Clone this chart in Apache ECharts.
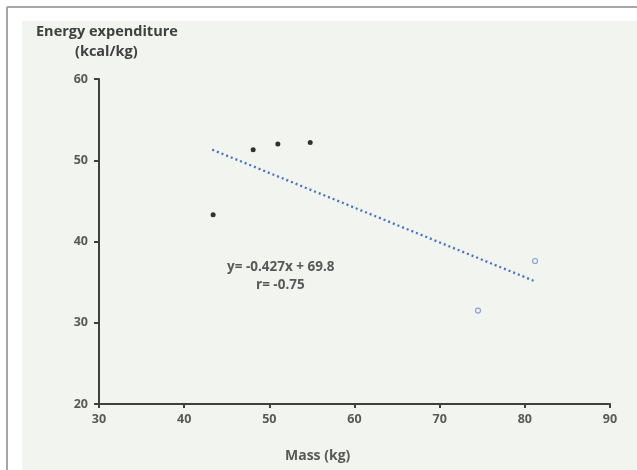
<!DOCTYPE html>
<html>
<head>
<meta charset="utf-8">
<script src="https://cdn.jsdelivr.net/npm/echarts@6/dist/echarts.min.js"></script>
<style>
html,body{margin:0;padding:0;background:#fff;}
#c{width:637px;height:470px;}
</style>
</head>
<body>
<div id="c"></div>
<script>
// Data
var groupAMass = [43.4, 48.1, 51.0, 54.8];
var groupAEnergy = [43.3, 51.3, 52.0, 52.2];
var groupBMass = [74.5, 81.2];
var groupBEnergy = [31.5, 37.6];
var trendMass = [43.3, 81.2];
var trendEnergy = [51.3, 35.1];
var xTicks = [30, 40, 50, 60, 70, 80, 90];
var yTicks = [20, 30, 40, 50, 60];
var yTitle = ["Energy expenditure", "(kcal/kg)"];
var xTitle = "Mass (kg)";
var equationText = ["y= -0.427x + 69.8", "r= -0.75"];

function pairs(xs, ys){ return xs.map(function(x,i){ return [x, ys[i]]; }); }

var chart = echarts.init(document.getElementById('c'), null, {renderer:'canvas'});
var font = '"Open Sans", "Liberation Sans", sans-serif';
var txtColor = '#595959';

chart.setOption({
  animation: false,
  backgroundColor: '#ffffff',
  grid: {left: 99, right: 27, top: 79, bottom: 66, containLabel: false},
  xAxis: {
    type: 'value', min: xTicks[0], max: xTicks[xTicks.length-1], interval: 10,
    axisLine: {show: true, lineStyle: {color: '#404040', width: 2}},
    axisTick: {show: true, length: 4, lineStyle: {color: '#404040', width: 2}},
    axisLabel: {color: txtColor, fontFamily: font, fontSize: 12.5, fontWeight: 'bold', margin: 9},
    splitLine: {show: false}
  },
  yAxis: {
    type: 'value', min: yTicks[0], max: yTicks[yTicks.length-1], interval: 10,
    axisLine: {show: true, lineStyle: {color: '#404040', width: 2}},
    axisTick: {show: true, length: 5, lineStyle: {color: '#404040', width: 2}},
    axisLabel: {color: txtColor, fontFamily: font, fontSize: 12.5, fontWeight: 'bold', margin: 11},
    splitLine: {show: false}
  },
  graphic: [
    {type: 'rect', z: -10, shape: {x: 22, y: 21, width: 615, height: 449}, style: {fill: '#f2f4ef'}},
    {type: 'line', z: -9, shape: {x1: 7, y1: 7, x2: 637, y2: 7}, style: {stroke: '#a6a6a6', lineWidth: 2}},
    {type: 'line', z: -9, shape: {x1: 7, y1: 7, x2: 7, y2: 470}, style: {stroke: '#a6a6a6', lineWidth: 2}},
    {type: 'text', left: 36, top: 24, style: {text: yTitle[0], fill: '#404040', font: 'bold 14.5px ' + font}},
    {type: 'text', left: 75, top: 44, style: {text: yTitle[1], fill: '#404040', font: 'bold 14.5px ' + font}},
    {type: 'text', left: 285, top: 449, style: {text: xTitle, fill: txtColor, font: 'bold 14px ' + font}},
    {type: 'text', left: 227, top: 260, style: {text: equationText[0], fill: txtColor, font: 'bold 13.5px ' + font}},
    {type: 'text', left: 256, top: 278, style: {text: equationText[1], fill: txtColor, font: 'bold 13.5px ' + font}}
  ],
  series: [
    {
      type: 'line', data: pairs(trendMass, trendEnergy), symbol: 'none',
      lineStyle: {color: '#4472c4', width: 2.3, type: [2, 3]}, z: 2
    },
    {
      type: 'scatter', data: pairs(groupAMass, groupAEnergy), symbol: 'circle', symbolSize: 5,
      itemStyle: {color: '#000000'}, z: 3
    },
    {
      type: 'scatter', data: pairs(groupBMass, groupBEnergy), symbol: 'circle', symbolSize: 5,
      itemStyle: {color: 'transparent', borderColor: '#6f8fd0', borderWidth: 1.2}, z: 3
    }
  ]
});
</script>
</body>
</html>
